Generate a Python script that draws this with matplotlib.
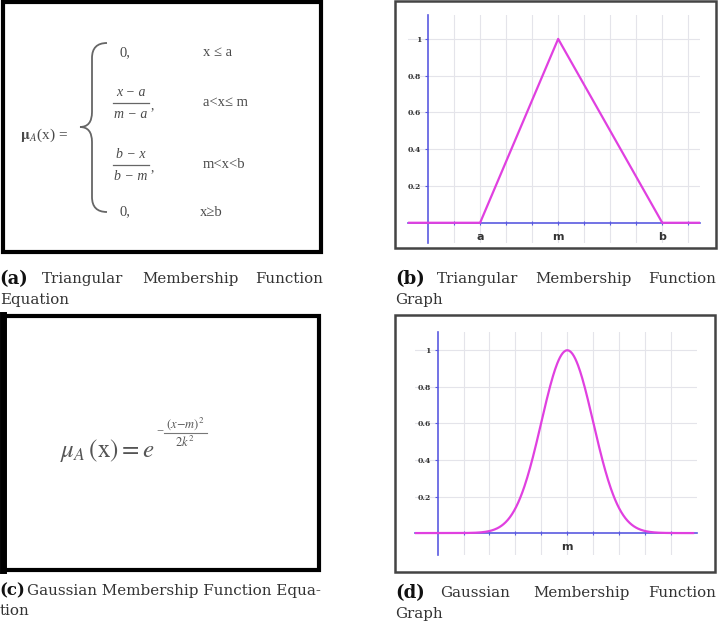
import numpy as np
import matplotlib
matplotlib.use("Agg")
import matplotlib.pyplot as plt
from matplotlib.patches import Rectangle, PathPatch
from matplotlib.path import Path

plt.rcParams['mathtext.fontset'] = 'stix'

# Datos: función triangular (a, m, b) y gaussiana (m, k)
tri_a, tri_m, tri_b = 2, 5, 9
tri_xlim = (-0.77, 10.45)
tri_x = [tri_xlim[0], tri_a, tri_m, tri_b, tri_xlim[1]]
tri_y = [0, 0, 1, 0, 0]

gauss_m, gauss_k = 5, 1
gauss_xlim = (-0.87, 9.85)

y_ticks = [0.2, 0.4, 0.6, 0.8, 1]
y_tick_labels = ['0.2', '0.4', '0.6', '0.8', '1']
x_grid = [1, 2, 3, 4, 5, 6, 7, 8, 9, 10]

# Colores
AXIS_BLUE = '#5a5ae0'
PINK = '#e040e0'
GRID = '#e4e4ea'
TXT = '#4a4a4a'

W, H = 720, 624
fig = plt.figure(figsize=(W / 100, H / 100), dpi=100)

# Lienzo en coordenadas de píxel
ax0 = fig.add_axes([0, 0, 1, 1])
ax0.set_xlim(0, W)
ax0.set_ylim(H, 0)
ax0.axis('off')

# Marcos
ax0.add_patch(Rectangle((2.5, 1.5), 318, 250, fill=False, ec='black', lw=3))
ax0.add_patch(Rectangle((395, 1), 321, 247, fill=False, ec='#444444', lw=1.8))
ax0.add_patch(Rectangle((3, 315.5), 316, 254, fill=False, ec='black', lw=3))
ax0.plot([3, 3], [315, 570], color='black', lw=5)
ax0.add_patch(Rectangle((395, 315), 320, 257, fill=False, ec='#444444', lw=1.8))

# (a) ecuación triangular
serif = 'Liberation Serif'
ax0.text(20, 135, r'$\mathbf{\mu}_{A}$(x) =', fontsize=11, family=serif,
         color=TXT, ha='left', va='center')

# llave
verts = [(107, 43), (92, 43), (92, 58), (92, 112), (92, 127), (80, 127),
         (92, 127), (92, 142), (92, 197), (92, 212), (107, 212)]
codes = [Path.MOVETO, Path.CURVE3, Path.CURVE3, Path.LINETO, Path.CURVE3, Path.CURVE3,
         Path.CURVE3, Path.CURVE3, Path.LINETO, Path.CURVE3, Path.CURVE3]
ax0.add_patch(PathPatch(Path(verts, codes), fill=False, ec='#666666', lw=1.3))

filas = [
    (53, '0,', 'x ≤ a'),
    (103, None, 'a<x≤ m'),
    (165, None, 'm<x<b'),
    (212, '0,', 'x≥b'),
]
for y, izq, cond in filas:
    if izq:
        ax0.text(120, y, izq, fontsize=10.5, family=serif, color=TXT, va='center')
    ax0.text(203 if y != 212 else 200, y, cond, fontsize=10.5, family=serif,
             color=TXT, va='center')

fracs = [(103, 'x − a', 'm − a'), (165, 'b − x', 'b − m')]
for y, num, den in fracs:
    ax0.text(131, y - 11, num, fontsize=10, family=serif, style='italic',
             color=TXT, ha='center', va='center')
    ax0.plot([113, 149], [y, y], color='#666666', lw=0.9)
    ax0.text(131, y + 12, den, fontsize=10, family=serif, style='italic',
             color=TXT, ha='center', va='center')
    ax0.text(151, y + 3, ',', fontsize=10, family=serif, color=TXT, va='center')

# (c) ecuación gaussiana
ax0.text(60, 451, r'$\mu_A\,(\mathrm{x}) = e$', fontsize=18,
         color='#555555', ha='left', va='center')
ax0.text(156, 432, '−', fontsize=9, family=serif, color='#666666',
         ha='left', va='center')
ax0.text(185, 424, r'$(x\!-\!m)^2$', fontsize=9, color='#555555',
         ha='center', va='center')
ax0.plot([164, 207], [432.5, 432.5], color='#777777', lw=0.8)
ax0.text(185, 442, r'$2k^2$', fontsize=9, color='#555555',
         ha='center', va='center')

# Pies de figura
CAP = 'DejaVu Serif'
CS = 10.8
def caption(x0, y, words, xs, size=CS, bsize=13):
    ax0.text(x0, y, words[0], fontsize=bsize, family=CAP, weight='bold',
             color='#111111', va='center')
    for w, x in zip(words[1:], xs):
        ax0.text(x, y, w, fontsize=size, family=CAP, color='#333333', va='center')

caption(-1, 279, ['(a)', 'Triangular', 'Membership', 'Function'], [42, 142, 255])
ax0.text(0, 300, 'Equation', fontsize=CS, family=CAP, color='#333333', va='center')
caption(395, 279, ['(b)', 'Triangular', 'Membership', 'Function'], [437, 535, 648])
ax0.text(395, 300, 'Graph', fontsize=CS, family=CAP, color='#333333', va='center')
caption(-1, 591, ['(c)', 'Gaussian Membership Function Equa-'], [27], size=10.9,
        bsize=12)
ax0.text(0, 611, 'tion', fontsize=10.9, family=CAP, color='#333333', va='center')
caption(395, 593, ['(d)', 'Gaussian', 'Membership', 'Function'], [440, 533, 648])
ax0.text(395, 614, 'Graph', fontsize=CS, family=CAP, color='#333333', va='center')


def graph_axes(rect_px, xlim, ylim):
    l, t, r, b = rect_px
    ax = fig.add_axes([l / W, 1 - b / H, (r - l) / W, (b - t) / H])
    ax.set_xlim(*xlim)
    ax.set_ylim(*ylim)
    ax.set_facecolor('white')
    for s in ['top', 'right']:
        ax.spines[s].set_visible(False)
    for s in ['left', 'bottom']:
        ax.spines[s].set_position(('data', 0))
        ax.spines[s].set_color(AXIS_BLUE)
        ax.spines[s].set_linewidth(1.2)
    ax.set_yticks(y_ticks)
    ax.set_yticklabels(y_tick_labels, fontsize=5.5, family='DejaVu Serif',
                       weight='bold', color='#333333')
    ax.set_xticks(x_grid)
    ax.tick_params(axis='y', length=2, color=AXIS_BLUE, pad=3)
    ax.tick_params(axis='x', length=3, direction='inout', color=AXIS_BLUE,
                   pad=5, labelsize=8, labelcolor='#333333')
    ax.grid(True, color=GRID, lw=0.8)
    ax.set_axisbelow(True)
    return ax


# (b) gráfica triangular
axb = graph_axes((408, 15, 700, 243), tri_xlim, (-0.11, 1.13))
axb.plot(tri_x, tri_y, color=PINK, lw=1.6, zorder=3)
axb.set_xticklabels(['', 'a', '', '', 'm', '', '', '', 'b', ''], weight='bold')

# (d) gráfica gaussiana
axd = graph_axes((415, 332, 697, 555), gauss_xlim, (-0.12, 1.10))
gx = np.linspace(gauss_xlim[0], gauss_xlim[1], 400)
gy = np.exp(-(gx - gauss_m) ** 2 / (2 * gauss_k ** 2))
axd.plot(gx, gy, color=PINK, lw=1.6, zorder=3)
axd.set_xticks(x_grid[:9])
axd.set_xticklabels(['', '', '', '', 'm', '', '', '', ''], weight='bold')

fig.savefig('out.png', dpi=100)
